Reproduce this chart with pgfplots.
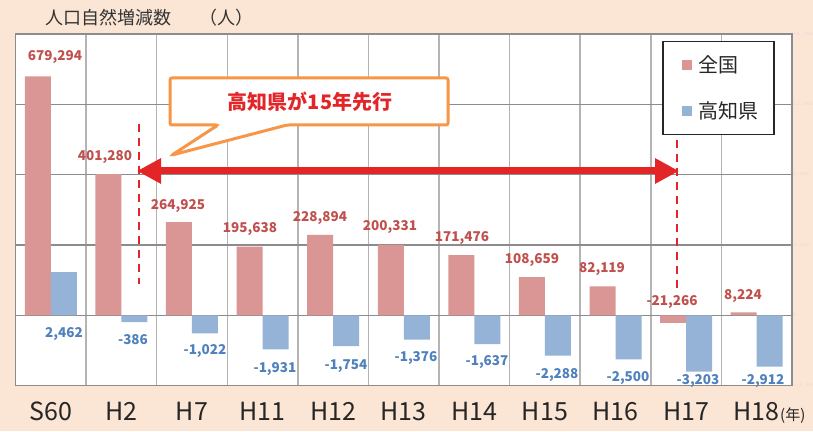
\documentclass[border=0pt]{standalone}
\usepackage{pgfplots}
\pgfplotsset{compat=1.18}
\usepackage{fontspec}
\setmainfont{Noto Sans CJK JP}
\usetikzlibrary{arrows.meta}

\definecolor{bgpeach}{HTML}{FBE6D5}
\definecolor{pinkbar}{HTML}{DA9694}
\definecolor{bluebar}{HTML}{95B3D7}
\definecolor{redlab}{HTML}{C0504D}
\definecolor{bluelab}{HTML}{4F81BD}
\definecolor{gridv}{HTML}{B4B4B4}
\definecolor{gridh}{HTML}{8C8C8C}
\definecolor{arrowred}{HTML}{E42528}
\definecolor{calloutorange}{HTML}{F79646}
\definecolor{faint}{HTML}{EFD3DA}
\definecolor{txt}{HTML}{262626}

\pgfplotstableread{
x zenkoku kochi
0 679294 2462
1 401280 -386
2 264925 -1022
3 195638 -1931
4 228894 -1754
5 200331 -1376
6 171476 -1637
7 108659 -2288
8 82119 -2500
9 -21266 -3203
10 8224 -2912
}\datatable

\begin{document}
\begin{tikzpicture}
\fill[bgpeach] (0pt,0pt) rectangle (813pt,431pt);
\useasboundingbox (0pt,0pt) rectangle (813pt,431pt);

\begin{axis}[
  at={(15.5pt,45.3pt)}, anchor=south west,
  scale only axis, width=776.5pt, height=351.7pt,
  xmin=-0.5, xmax=10.5, ymin=-200000, ymax=800000,
  axis background/.style={fill=white},
  xtick={0,...,10},
  xticklabels={S60,H2,H7,H11,H12,H13,H14,H15,H16,H17,{H18\rlap{\fontsize{15}{15}\selectfont\hspace{0.5pt}(年)}}},
  xticklabel style={anchor=base, yshift=-35pt, font=\fontsize{25}{25}\selectfont, text=txt},
  minor xtick={0.5,1.5,...,9.5}, xminorgrids,
  minor grid style={gridv, line width=1.5pt},
  ytick={-200000,0,...,800000}, yticklabels={}, ymajorgrids,
  major grid style={gridh, line width=1.5pt},
  major tick length=0pt, minor tick length=0pt,
  axis line style={gridh, line width=1.5pt},
  scaled y ticks=false,
]
\addplot[ybar, bar width=26pt, bar shift=-13pt, fill=pinkbar, draw=none] table[x=x, y=zenkoku] {\datatable};
\end{axis}

\begin{axis}[
  at={(15.5pt,45.3pt)}, anchor=south west,
  scale only axis, width=776.5pt, height=351.7pt,
  xmin=-0.5, xmax=10.5, ymin=-4000, ymax=16000,
  hide x axis, axis y line*=right, y axis line style={draw=none},
  ytick={-4000,0,...,16000}, major tick length=0pt,
  scaled y ticks=false,
  yticklabel style={font=\fontsize{4}{4}\selectfont, text=faint, inner sep=1pt, /pgf/number format/1000 sep={,}},
  legend style={at={(0.8326,0.9801)}, anchor=north west, draw=black!85, line width=1.5pt,
    fill=white, font=\fontsize{20}{20}\selectfont, text=txt,
    inner xsep=13pt, inner ysep=12pt, row sep=24pt, column sep=5pt,
    nodes={inner sep=2pt}},
  legend cell align=left,
  legend image code/.code={\path (0pt,0pt) -- (0pt,0pt); \fill[#1] (6pt,-5pt) rectangle (16pt,5pt);},
]
\addlegendimage{fill=pinkbar, draw=none}
\addlegendentry{全国}
\addplot[ybar, bar width=26pt, bar shift=13pt, fill=bluebar, draw=none] table[x=x, y=kochi] {\datatable};
\addlegendentry{高知県}
\end{axis}

\begin{scope}[x=1pt,y=1pt]
% data labels
\begin{scope}[every node/.style={font=\fontsize{13.5}{14}\bfseries\selectfont, inner sep=0pt}]
\node[text=redlab] at (55,431-57) {679,294};
\node[text=redlab] at (105,431-157) {401,280};
\node[text=redlab] at (178,431-206) {264,925};
\node[text=redlab] at (250,431-229) {195,638};
\node[text=redlab] at (320,431-218) {228,894};
\node[text=redlab] at (390,431-227) {200,331};
\node[text=redlab] at (462,431-238) {171,476};
\node[text=redlab] at (532,431-260) {108,659};
\node[text=redlab] at (602,431-269) {82,119};
\node[text=redlab] at (672,431-302) {-21,266};
\node[text=redlab] at (743,431-296) {8,224};
\node[text=bluelab] at (64,431-334) {2,462};
\node[text=bluelab] at (133,431-340) {-386};
\node[text=bluelab] at (205,431-351) {-1,022};
\node[text=bluelab] at (275,431-369) {-1,931};
\node[text=bluelab] at (346,431-366) {-1,754};
\node[text=bluelab] at (416,431-358) {-1,376};
\node[text=bluelab] at (487,431-362) {-1,637};
\node[text=bluelab] at (557,431-375) {-2,288};
\node[text=bluelab] at (628,431-378) {-2,500};
\node[text=bluelab] at (698,431-381) {-3,203};
\node[text=bluelab] at (763,431-381) {-2,912};
\end{scope}

% title
\node[anchor=west, font=\fontsize{18}{18}\selectfont, text=black!80, inner sep=0pt] at (45,413) {人口自然増減数\hspace{28pt}（人）};

% dashed lines
\draw[arrowred, line width=2.5pt, dash pattern=on 8pt off 6pt] (139,431-124) -- (139,431-284);
\draw[arrowred, line width=2.5pt, dash pattern=on 8pt off 6pt] (677,431-140) -- (677,431-290);

% double arrow
\draw[arrowred, line width=7pt, {Triangle[length=24pt,width=24pt]}-{Triangle[length=24pt,width=24pt]}] (137,431-171) -- (679,431-171);

% callout
\draw[calloutorange, line width=3pt, fill=white, rounded corners=2pt]
  (170,353) -- (448,353) -- (448,306) -- (287,306) -- (172,276) -- (218,306) -- (170,306) -- cycle;
\node[font=\fontsize{20}{20}\bfseries\selectfont, text=arrowred, inner sep=0pt] at (310,431-102) {高知県が15年先行};
\end{scope}
\end{tikzpicture}
\end{document}
